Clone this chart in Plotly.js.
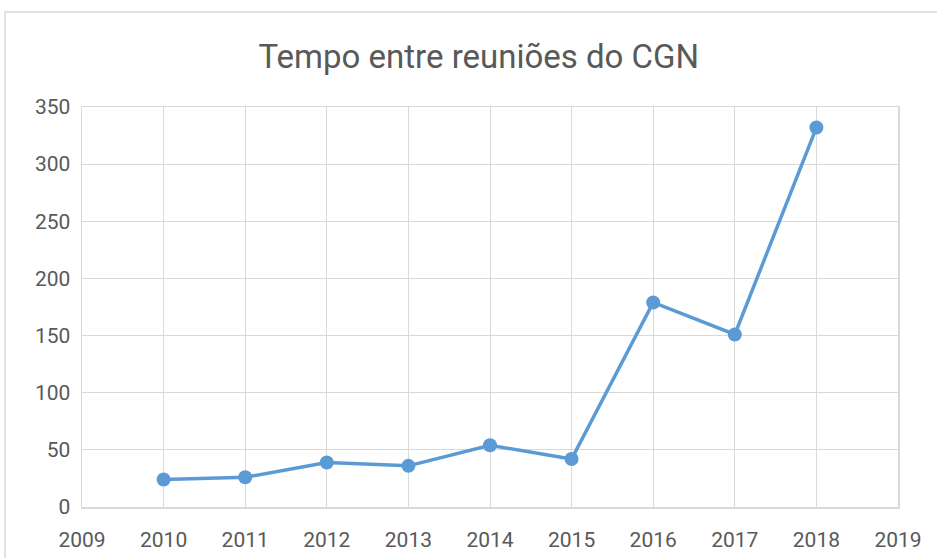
<!DOCTYPE html>
<html>
<head>
<meta charset="utf-8">
<script src="https://cdn.plot.ly/plotly-3.0.1.min.js"></script>
<style>html,body{margin:0;padding:0;background:#fff;}#chart{width:937px;height:558px;}</style>
</head>
<body>
<div id="chart"></div>
<script>
const chartTitle = "Tempo entre reuniões do CGN";
const years = [2010, 2011, 2012, 2013, 2014, 2015, 2016, 2017, 2018];
const values = [24, 26, 39, 36, 54, 42, 179, 151, 332];
const xTicks = [2009, 2010, 2011, 2012, 2013, 2014, 2015, 2016, 2017, 2018, 2019];
const yTicks = [0, 50, 100, 150, 200, 250, 300, 350];

const W = 937, H = 558;
const m = {l: 82, r: 39, t: 107, b: 51};
const pw = W - m.l - m.r, ph = H - m.t - m.b;
const px = v => (v - m.l) / pw;
const py = v => (H - m.b - v) / ph;

const trace = {
  x: years, y: values, type: 'scatter', mode: 'lines+markers',
  line: {color: '#5B9BD5', width: 3.5},
  marker: {color: '#5B9BD5', size: 14},
  hoverinfo: 'x+y'
};

const layout = {
  width: W, height: H,
  margin: m,
  paper_bgcolor: '#fff', plot_bgcolor: '#fff',
  showlegend: false,
  font: {family: 'Roboto, sans-serif', color: '#595959'},
  title: {text: chartTitle, font: {size: 33, color: '#595959', family: 'Roboto, sans-serif'},
          x: 0.511, xanchor: 'center', y: 0.898, yanchor: 'middle'},
  xaxis: {range: [2009, 2019], tickvals: xTicks, ticktext: xTicks.map(String),
          showgrid: true, gridcolor: '#D9D9D9', gridwidth: 1,
          showline: true, mirror: true, linecolor: '#D9D9D9', linewidth: 1.5,
          zeroline: false, ticks: '', ticklabelstandoff: 13,
          tickfont: {size: 21, color: '#595959'}, fixedrange: true},
  yaxis: {range: [0, 350], tickvals: yTicks, ticktext: yTicks.map(String),
          showgrid: true, gridcolor: '#D9D9D9', gridwidth: 1,
          showline: true, mirror: true, linecolor: '#D9D9D9', linewidth: 1.5,
          zeroline: false, ticks: '', ticklabelstandoff: 6,
          tickfont: {size: 21, color: '#595959'}, fixedrange: true},
  shapes: [{type: 'rect', xref: 'paper', yref: 'paper',
            x0: px(5), x1: px(960), y0: py(580), y1: py(12),
            line: {color: '#D9D9D9', width: 1.5}, fillcolor: 'rgba(0,0,0,0)', layer: 'below'}]
};

Plotly.newPlot('chart', [trace], layout, {displayModeBar: false, staticPlot: true});
</script>
</body>
</html>
